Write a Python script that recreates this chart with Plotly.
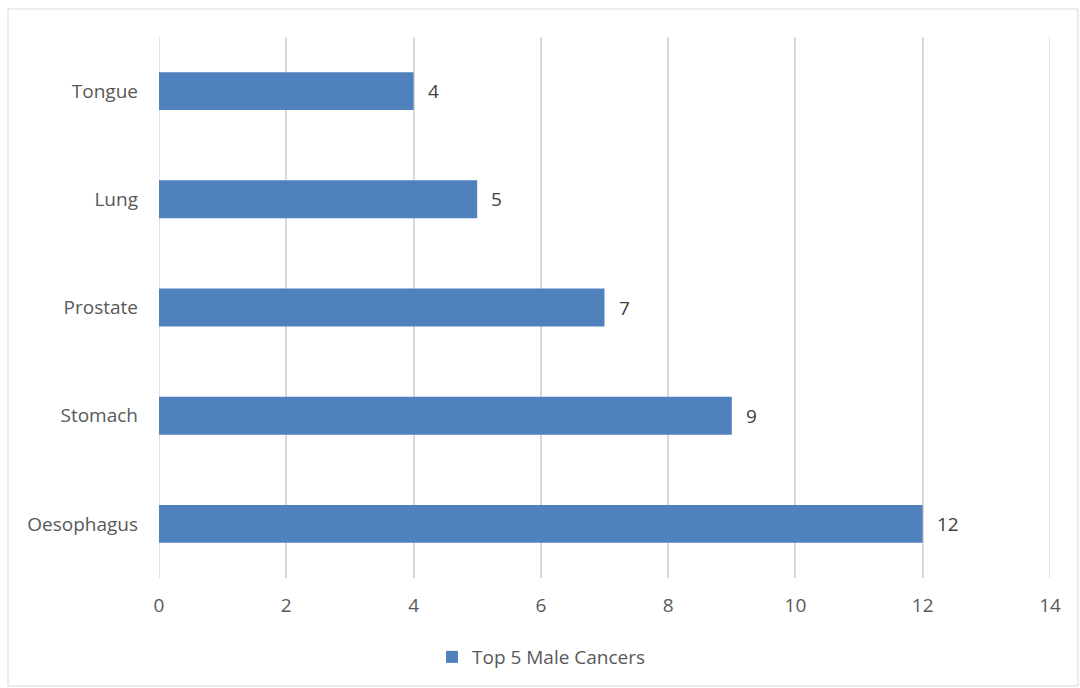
import plotly.graph_objects as go

categories = ["Oesophagus", "Stomach", "Prostate", "Lung", "Tongue"]
values = [12, 9, 7, 5, 4]
series_name = "Top 5 Male Cancers"
x_ticks = [0, 2, 4, 6, 8, 10, 12, 14]

L, R, T, B = 159, 1050, 37, 578
W, H = 1080, 688
pw, ph = R - L, B - T
FONT = "Open Sans"
FS = 19

fig = go.Figure()
fig.add_trace(go.Bar(
    x=values, y=categories, orientation="h", name=series_name,
    marker=dict(color="#4F81BD", line=dict(width=0)),
    width=0.35, showlegend=True,
))

for v, c in zip(values, categories):
    fig.add_annotation(x=v, y=c, xref="x", yref="y", text=str(v), showarrow=False,
                       xanchor="left", xshift=12,
                       font=dict(size=FS, color="#404040", family=FONT))

for xv in (x_ticks[0], x_ticks[-1]):
    fig.add_shape(type="line", xref="x", yref="paper", x0=xv, x1=xv, y0=0, y1=1,
                  line=dict(color="#D9D9D9", width=1.5), layer="below")

fig.update_layout(
    width=W, height=H,
    margin=dict(l=L, r=W - R, t=T, b=H - B),
    plot_bgcolor="white", paper_bgcolor="white",
    font=dict(family=FONT, size=FS, color="#595959"),
    xaxis=dict(range=[0, 14], tickvals=x_ticks, showgrid=True, gridcolor="#D9D9D9",
               gridwidth=1.5, zeroline=False, showline=False, ticks="",
               tickfont=dict(size=FS, color="#595959"), ticklabelstandoff=14),
    yaxis=dict(categoryorder="array", categoryarray=categories, showgrid=False,
               zeroline=False, showline=False, ticks="", ticklabelstandoff=20,
               tickfont=dict(size=FS, color="#595959")),
    legend=dict(orientation="h", x=(472 - 40 - L) / pw, xanchor="left",
                y=(B - 657) / ph, yanchor="middle",
                font=dict(size=FS, color="#595959"), itemwidth=30),
    bargap=0.65,
)

fig.add_shape(type="rect", xref="paper", yref="paper",
              x0=(8 - L) / pw, x1=(1078 - L) / pw,
              y0=(B - 686) / ph, y1=(B - 9) / ph,
              line=dict(color="#D9D9D9", width=1), fillcolor="rgba(0,0,0,0)", layer="below")

fig.write_html("out.html")
